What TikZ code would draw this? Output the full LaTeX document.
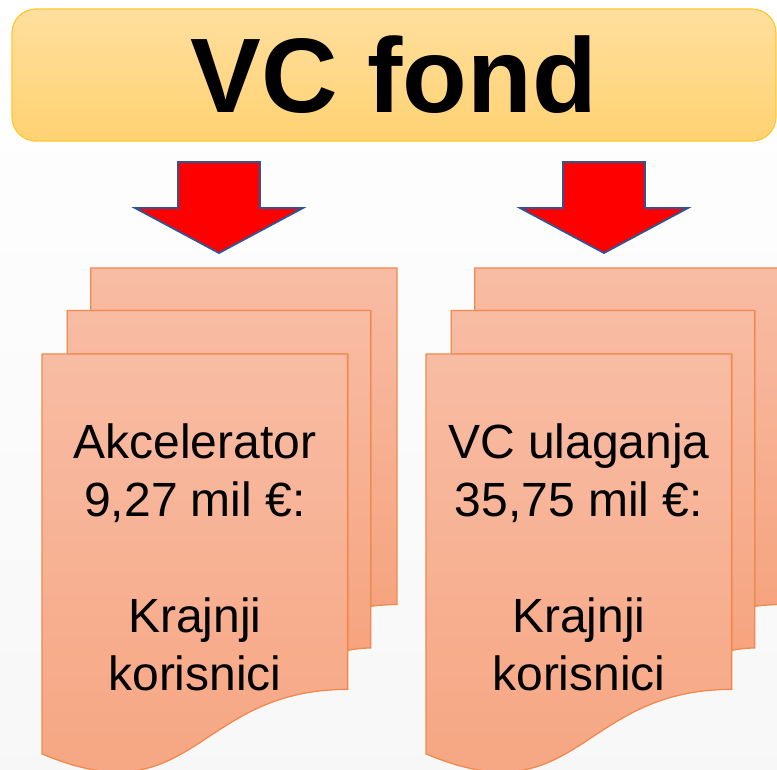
\documentclass[tikz,border=0pt]{standalone}
\usepackage{fontspec}
\setmainfont{Liberation Sans}
\usetikzlibrary{positioning}
\usetikzlibrary{calc}
\definecolor{titletop}{HTML}{FFDF9E}
\definecolor{titlebot}{HTML}{FFD272}
\definecolor{titleline}{HTML}{FFC72C}
\definecolor{doctop}{HTML}{F8BCA4}
\definecolor{docbot}{HTML}{F6A47F}
\definecolor{docline}{HTML}{EF8A4C}
\definecolor{arrowline}{HTML}{2F5597}
\tikzstyle{titlebox}=[draw=titleline, line width=1.2pt, rounded corners=24pt, top color=titletop, bottom color=titlebot, minimum width=764pt, minimum height=132pt, font=\fontsize{106}{110}\selectfont\bfseries]
\tikzstyle{sheet}=[draw=docline, line width=1.3pt, top color=doctop, bottom color=docbot]
\tikzstyle{downarrow}=[draw=arrowline, line width=1.8pt, fill=red, line join=miter]
\tikzstyle{doctext}=[align=center, font=\fontsize{48}{58}\selectfont, inner sep=0pt]

\begin{document}
\begin{tikzpicture}[x=1pt, y=-1pt]

  \useasboundingbox (0,0) rectangle (777,769);
  \clip (0,0) rectangle (777,769);
  \fill[top color=white, bottom color=black!3] (0,0) rectangle (777,769);

  \node[titlebox] (fond) at (394,75) {VC fond};

  % block arrows under the title
  \foreach \cx in {219, 604}
     \draw[downarrow] (\cx-41,162) -- (\cx+41,162) -- (\cx+41,208) -- (\cx+84,208) -- (\cx,253) -- (\cx-84,208) -- (\cx-41,208) -- cycle;

  % three stacked sheets per group
  \foreach \gx in {42, 426}
  {
   \begin{scope}[shift={(\gx,268)}, x=1.6435pt, y=-2.338pt]
     \draw[sheet] (29.72,18.15) -- (29.72,0) -- (216,0) -- (216,143.92) .. controls (208,143.92) and (200,144.67) .. (200,144.67) -- (200,18.15) -- cycle;
     \draw[sheet] (15.32,36.75) -- (15.32,18.15) -- (200,18.15) -- (200,162.52) .. controls (192.98,162.52) and (185.95,163.52) .. (185.95,163.52) -- (185.95,36.75) -- cycle;
     \draw[sheet] (0,36.75) -- (185.95,36.75) -- (185.95,180.22) .. controls (92.98,180.22) and (92.98,235.42) .. (0,207.82) -- cycle;
   \end{scope}
  }

  \node[doctext] (akc) at (195,557) {Akcelerator\\9,27 mil €:\\[58pt]Krajnji\\korisnici};
  \node[doctext] (vcu) at (579,557) {VC ulaganja\\35,75 mil €:\\[58pt]Krajnji\\korisnici};

\end{tikzpicture}
\end{document}
